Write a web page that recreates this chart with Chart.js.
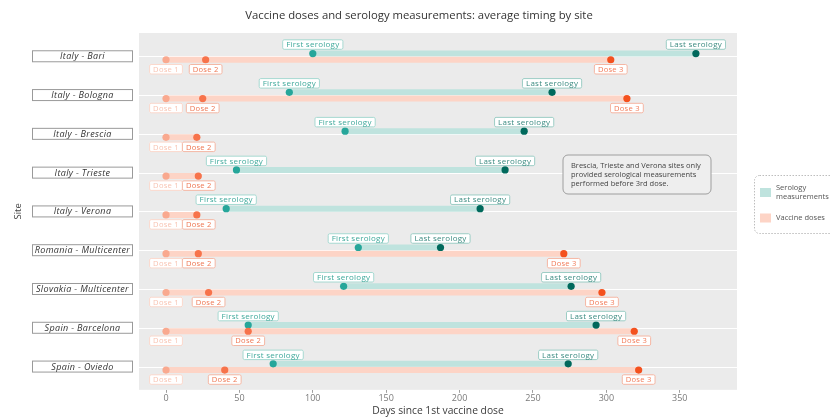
<!DOCTYPE html>
<html>
<head>
<meta charset="utf-8">
<script src="https://cdn.jsdelivr.net/npm/chart.js@4"></script>
<style>
  html, body { margin: 0; padding: 0; background: #fff; }
  #wrap { width: 831px; height: 417px; }
</style>
</head>
<body>
<div id="wrap"><canvas id="timingChart"></canvas></div>
<script>
// data (days since 1st dose)
let sites = ['Italy - Bari', 'Italy - Bologna', 'Italy - Brescia', 'Italy - Trieste', 'Italy - Verona',
  'Romania - Multicenter', 'Slovakia - Multicenter', 'Spain - Barcelona', 'Spain - Oviedo'];
let dose1 = [0, 0, 0, 0, 0, 0, 0, 0, 0];
let dose2 = [27, 25, 21, 22, 21, 22, 29, 56, 40];
let dose3 = [303, 314, null, null, null, 271, 297, 319, 322];
let firstSerology = [100, 84, 122, 48, 41, 131, 121, 56, 73];
let lastSerology = [361, 263, 244, 231, 214, 187, 276, 293, 274];
let xTicks = [0, 50, 100, 150, 200, 250, 300, 350];

let seroBar = '#bfe3de';
let doseBar = '#fdd4c6';
let seroShift = -0.07;
let doseShift = 0.09;

let datasets = [];

// bars (drawn underneath the points)
sites.forEach(function(site, i){
    let lastDose = dose3[i] != null ? dose3[i] : dose2[i];
    datasets.push({
        type: 'line', label: 'dose-bar', order: 2,
        data: [{x: dose1[i], y: i + doseShift}, {x: lastDose, y: i + doseShift}],
        borderColor: doseBar, borderWidth: 6, borderCapStyle: 'butt', pointRadius: 0
    });
    datasets.push({
        type: 'line', label: 'sero-bar', order: 2,
        data: [{x: firstSerology[i], y: i + seroShift}, {x: lastSerology[i], y: i + seroShift}],
        borderColor: seroBar, borderWidth: 6, borderCapStyle: 'butt', pointRadius: 0
    });
});

// points with their labels
let pointSets = [
    {name: 'Dose 1', values: dose1, shift: doseShift, color: '#f9a98f', text: '#f8c3b2', edge: '#fbd8cc', below: true},
    {name: 'Dose 2', values: dose2, shift: doseShift, color: '#f7734b', text: '#ee7753', edge: '#f4b7a4', below: true},
    {name: 'Dose 3', values: dose3, shift: doseShift, color: '#f4511e', text: '#f27c5a', edge: '#f5b6a3', below: true},
    {name: 'First serology', values: firstSerology, shift: seroShift, color: '#26a69a', text: '#3fa99b', edge: '#a6d9d1', below: false},
    {name: 'Last serology', values: lastSerology, shift: seroShift, color: '#00695c', text: '#3d8c82', edge: '#9ccdc5', below: false}
];

let firstPointSet = datasets.length;
pointSets.forEach(function(p){
    let pts = [];
    p.values.forEach(function(v, i){
        if (v != null) pts.push({x: v, y: i + p.shift, row: i});
    });
    datasets.push({
        type: 'scatter', label: p.name, data: pts, order: 1,
        backgroundColor: p.color, borderColor: p.color, borderWidth: 0, pointRadius: 3.6, pointHoverRadius: 3.6
    });
});

let font = '"Open Sans", "DejaVu Sans", sans-serif';

let decor = {
    id: 'decor',
    beforeDatasetsDraw: function(chart){
        let ctx = chart.ctx, a = chart.chartArea, y = chart.scales.y;
        ctx.save();
        ctx.fillStyle = '#ebebeb';
        ctx.fillRect(a.left, a.top, a.right - a.left, a.bottom - a.top);
        ctx.strokeStyle = '#ffffff';
        ctx.lineWidth = 1.2;
        sites.forEach(function(s, i){
            let py = Math.round(y.getPixelForValue(i)) + 0.5;
            ctx.beginPath();
            ctx.moveTo(a.left, py);
            ctx.lineTo(a.right, py);
            ctx.stroke();
        });
        ctx.restore();
    },
    afterDatasetsDraw: function(chart){
        let ctx = chart.ctx, a = chart.chartArea, y = chart.scales.y;
        ctx.save();
        ctx.textAlign = 'center';
        ctx.textBaseline = 'middle';

        // point labels, pushed right when they would overlap the one before
        let rightEdge = {};
        pointSets.forEach(function(p, k){
            let meta = chart.getDatasetMeta(firstPointSet + k);
            let raw = chart.data.datasets[firstPointSet + k].data;
            ctx.font = (p.below ? '7.6px ' : '8px ') + font;
            ctx.letterSpacing = '0.25px';
            meta.data.forEach(function(el, j){
                let key = raw[j].row + (p.below ? 'b' : 'a');
                let w = ctx.measureText(p.name).width + 7;
                let h = 9.5;
                let cx = el.x;
                if (rightEdge[key] != null && cx - w / 2 < rightEdge[key]) cx = rightEdge[key] + w / 2;
                rightEdge[key] = cx + w / 2;
                let cy = p.below ? el.y + 9.5 : el.y - 9;
                ctx.fillStyle = '#ffffff';
                ctx.fillRect(cx - w / 2, cy - h / 2, w, h);
                ctx.strokeStyle = p.edge;
                ctx.lineWidth = 1;
                ctx.beginPath();
                ctx.roundRect(cx - w / 2, cy - h / 2, w, h, 1.5);
                ctx.stroke();
                ctx.fillStyle = p.text;
                ctx.fillText(p.name, cx, cy + 0.5);
            });
        });

        // site labels on the left
        ctx.font = 'italic 9px ' + font;
        ctx.letterSpacing = '0.35px';
        sites.forEach(function(s, i){
            let py = y.getPixelForValue(i);
            ctx.fillStyle = '#ffffff';
            ctx.fillRect(32, py - 6, 101, 12);
            ctx.strokeStyle = '#9a9a9a';
            ctx.lineWidth = 1;
            ctx.strokeRect(32.5, py - 5.5, 100, 11);
            ctx.fillStyle = '#333333';
            ctx.fillText(s, 82.5, py + 0.5);
        });
        ctx.letterSpacing = '0px';

        // title and y axis title
        ctx.font = '11.3px ' + font;
        ctx.fillStyle = '#333333';
        ctx.fillText('Vaccine doses and serology measurements: average timing by site', 419, 16);
        ctx.save();
        ctx.translate(18, (a.top + a.bottom) / 2);
        ctx.rotate(-Math.PI / 2);
        ctx.font = '9.5px ' + font;
        ctx.fillStyle = '#444444';
        ctx.fillText('Site', 0, 0);
        ctx.restore();

        // note box
        ctx.fillStyle = '#eeeeee';
        ctx.strokeStyle = '#9e9e9e';
        ctx.lineWidth = 1;
        ctx.beginPath();
        ctx.roundRect(563, 155, 148, 39, 5);
        ctx.fill();
        ctx.stroke();
        ctx.textAlign = 'left';
        ctx.font = '7.5px ' + font;
        ctx.fillStyle = '#444444';
        ctx.fillText('Brescia, Trieste and Verona sites only', 571, 166);
        ctx.fillText('provided serological measurements', 571, 175);
        ctx.fillText('performed before 3rd dose.', 571, 183.5);

        // legend
        ctx.strokeStyle = '#bdbdbd';
        ctx.setLineDash([1.5, 1.5]);
        ctx.beginPath();
        ctx.roundRect(754.5, 175.5, 90, 58, 5);
        ctx.stroke();
        ctx.setLineDash([]);
        ctx.fillStyle = seroBar;
        ctx.fillRect(760, 188, 11, 9);
        ctx.fillStyle = doseBar;
        ctx.fillRect(760, 213.5, 11, 9);
        ctx.fillStyle = '#555555';
        ctx.font = '7.5px ' + font;
        ctx.fillText('Serology', 776, 187.5);
        ctx.fillText('measurements', 776, 196.5);
        ctx.fillText('Vaccine doses', 776, 218);
        ctx.restore();
    }
};

new Chart(document.getElementById('timingChart'), {
    data: { datasets: datasets },
    options: {
        responsive: true,
        maintainAspectRatio: false,
        animation: false,
        layout: { padding: { left: 139, right: 94, top: 33, bottom: 0 } },
        scales: {
            x: {
                type: 'linear',
                min: -18.4,
                max: 389,
                afterBuildTicks: function(axis){
                    axis.ticks = xTicks.map(function(v){ return {value: v}; });
                },
                ticks: { color: '#7a7a7a', font: { size: 9, family: font }, padding: 0, maxRotation: 0 },
                grid: { drawOnChartArea: false, drawTicks: true, tickLength: 3, color: '#a0a0a0' },
                border: { display: false },
                title: {
                    display: true, text: 'Days since 1st vaccine dose', color: '#3a3a3a',
                    font: { size: 10.3, family: font, weight: '500' }, padding: { top: 1, bottom: 0 }
                }
            },
            y: { type: 'linear', display: false, reverse: true, min: -0.6, max: 8.6 }
        },
        plugins: {
            legend: { display: false },
            tooltip: { enabled: false }
        }
    },
    plugins: [decor]
});
</script>
</body>
</html>
